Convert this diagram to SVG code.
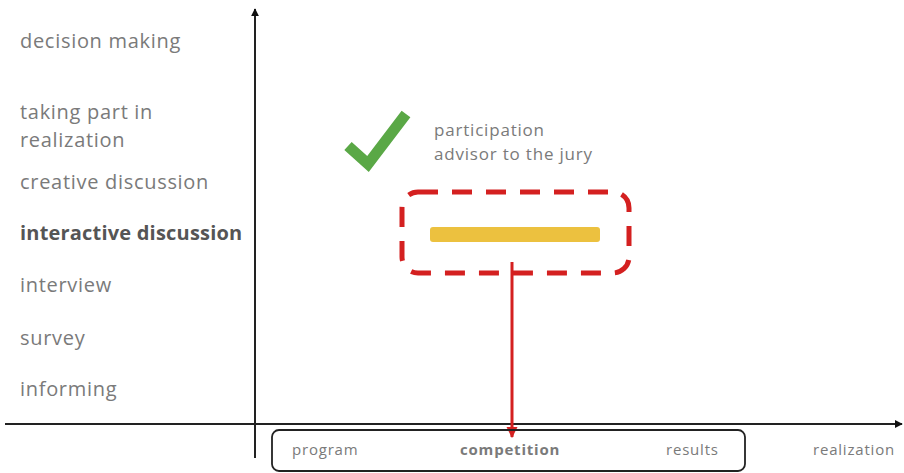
<svg xmlns="http://www.w3.org/2000/svg" width="904" height="473" viewBox="0 0 904 473">
<style>
.lbl{font-family:"Open Sans","Liberation Sans",sans-serif;font-size:20px;letter-spacing:0.7px;fill:#7a7a7a}
.b{font-weight:bold;fill:#555;letter-spacing:0.2px}
.sm{font-family:"Open Sans","Liberation Sans",sans-serif;font-size:15px;letter-spacing:0.8px;fill:#7a7a7a}
.md{font-size:17px}
.ax{stroke:#222;stroke-width:2;fill:none}
</style>
<defs>
<marker id="ah" viewBox="0 0 10 10" refX="9" refY="5" markerWidth="8" markerHeight="8" markerUnits="userSpaceOnUse" orient="auto"><path d="M0,0L10,5L0,10z" fill="#111"/></marker>
<marker id="rh" viewBox="0 0 10 10" refX="9" refY="5" markerWidth="11" markerHeight="12" markerUnits="userSpaceOnUse" orient="auto"><path d="M0,0L10,5L0,10z" fill="#d42020"/></marker>
</defs>
<g id="labels-y">
<text class="lbl" x="20" y="48">decision making</text>
<text class="lbl" x="20" y="119">taking part in</text>
<text class="lbl" x="20" y="147">realization</text>
<text class="lbl" x="20" y="189">creative discussion</text>
<text class="lbl b" x="20" y="240">interactive discussion</text>
<text class="lbl" x="20" y="292">interview</text>
<text class="lbl" x="20" y="345">survey</text>
<text class="lbl" x="20" y="396">informing</text>
</g>
<g id="axes">
<line class="ax" x1="255" y1="458" x2="255" y2="9" marker-end="url(#ah)"/>
<line class="ax" x1="5" y1="424" x2="902" y2="424" marker-end="url(#ah)"/>
</g>
<g id="check">
<path d="M348,146L368,164L406,114" fill="none" stroke="#5aa846" stroke-width="11" stroke-linecap="butt" stroke-linejoin="miter"/>
<text class="sm md" x="434" y="136">participation<tspan x="434" dy="24">advisor to the jury</tspan></text>
</g>
<g id="highlight">
<rect x="402" y="192" width="227" height="81" rx="16" fill="none" stroke="#d42020" stroke-width="5" stroke-dasharray="20 14"/>
<rect x="430" y="227" width="170" height="15" rx="3" fill="#ecc13f"/>
</g>
<g id="connectors">
<line x1="512" y1="262" x2="512" y2="437" stroke="#d42020" stroke-width="3" marker-end="url(#rh)"/>
</g>
<g id="phases">
<rect x="272" y="430" width="473" height="41" rx="7" fill="none" stroke="#222" stroke-width="1.8"/>
<text class="sm" x="292" y="455">program</text>
<text class="sm b" x="460" y="455">competition</text>
<text class="sm" x="666" y="455">results</text>
<text class="sm" x="813" y="455">realization</text>
</g>
</svg>
